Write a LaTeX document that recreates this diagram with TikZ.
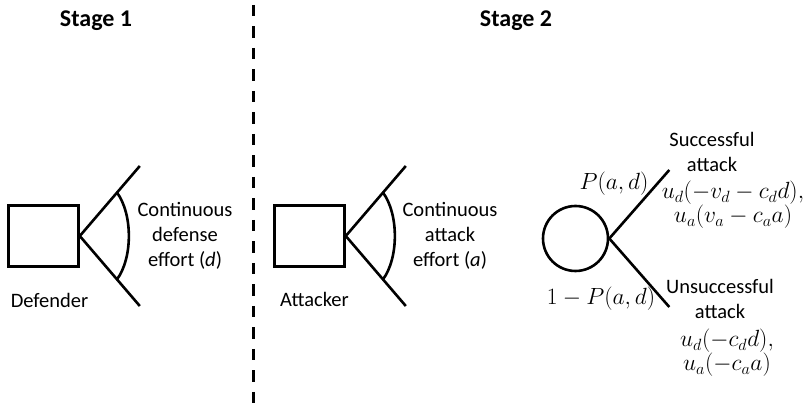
\documentclass[tikz,border=0pt]{standalone}
\usepackage{fontspec}
\setmainfont{Carlito}
\usetikzlibrary{calc,positioning}
\newcommand{\payoff}[1]{\scalebox{1.13}{$#1$}}
\begin{document}
\begin{tikzpicture}[x=1pt,y=-1pt,
  txt/.style={font=\fontsize{20.5}{25}\selectfont,align=center,inner sep=0pt,anchor=base},
  mth/.style={font=\fontsize{20.74}{24}\selectfont,inner sep=0pt,anchor=base},
  stagelabel/.style={font=\fontsize{24}{25}\selectfont\bfseries,inner sep=0pt,anchor=base},
  player/.style={draw,line width=2.6pt,minimum width=70pt,minimum height=61pt,inner sep=0pt},
  chance/.style={draw,circle,line width=2.6pt,minimum size=65pt,inner sep=0pt},
  branch/.style={line width=2.6pt},
  divider/.style={line width=2.8pt,dash pattern=on 11.5pt off 10pt}]
\useasboundingbox (0,0) rectangle (807,411);
% stages
\node[stagelabel] (stage1) at (96,27) {Stage 1};
\node[stagelabel] (stage2) at (516,27) {Stage 2};
\coordinate (divtop) at (253.5,5);
\coordinate (divbot) at (253.5,411);
\draw[divider] (divtop) -- (divbot);
% defender
\node[player] (defender) at (43.5,236) {};
\node[txt] (deflabel) at (49.5,308) {Defender};
\coordinate (dup) at ($(defender.east)+(60,-70)$);
\coordinate (ddown) at ($(defender.east)+(60,70)$);
\draw[branch] (dup) -- (defender.east) -- (ddown);
\draw[branch] ($(defender.east)!0.62!(dup)$) .. controls ($(defender.east)+(53,-22)$) and ($(defender.east)+(53,22)$) .. ($(defender.east)!0.62!(ddown)$);
\node[txt] (defeffort) at (185,267) {Continuous\\defense\\effort (\textit{d})};
% attacker
\node[player] (attacker) at (309.5,236) {};
\node[txt] (attlabel) at (314.5,307) {Attacker};
\coordinate (aup) at ($(attacker.east)+(60,-70)$);
\coordinate (adown) at ($(attacker.east)+(60,70)$);
\draw[branch] (aup) -- (attacker.east) -- (adown);
\draw[branch] ($(attacker.east)!0.62!(aup)$) .. controls ($(attacker.east)+(53,-22)$) and ($(attacker.east)+(53,22)$) .. ($(attacker.east)!0.62!(adown)$);
\node[txt] (atteffort) at (450,267) {Continuous\\attack\\effort (\textit{a})};
% nature
\node[chance] (nature) at (575.5,238.5) {};
\coordinate (success) at ($(nature.east)+(60,-68.5)$);
\coordinate (fail) at ($(nature.east)+(60,68.5)$);
\draw[branch] (success) -- (nature.east) -- (fail);
\node[mth] (psucc) at (614,190) {\payoff{P(a,d)}};
\node[mth] (pfail) at (601,305) {\payoff{1-P(a,d)}};
\node[txt] (succlabel) at (712,172) {Successful\\attack};
\node[mth] (succd) at (733,199) {\payoff{u_d(-v_d-c_d d),}};
\node[mth] (succa) at (733,223) {\payoff{u_a(v_a-c_a a)}};
\node[txt] (faillabel) at (720,319) {Unsuccessful\\attack};
\node[mth] (faild) at (727,347) {\payoff{u_d(-c_d d),}};
\node[mth] (faila) at (727,371) {\payoff{u_a(-c_a a)}};
\end{tikzpicture}
\end{document}
